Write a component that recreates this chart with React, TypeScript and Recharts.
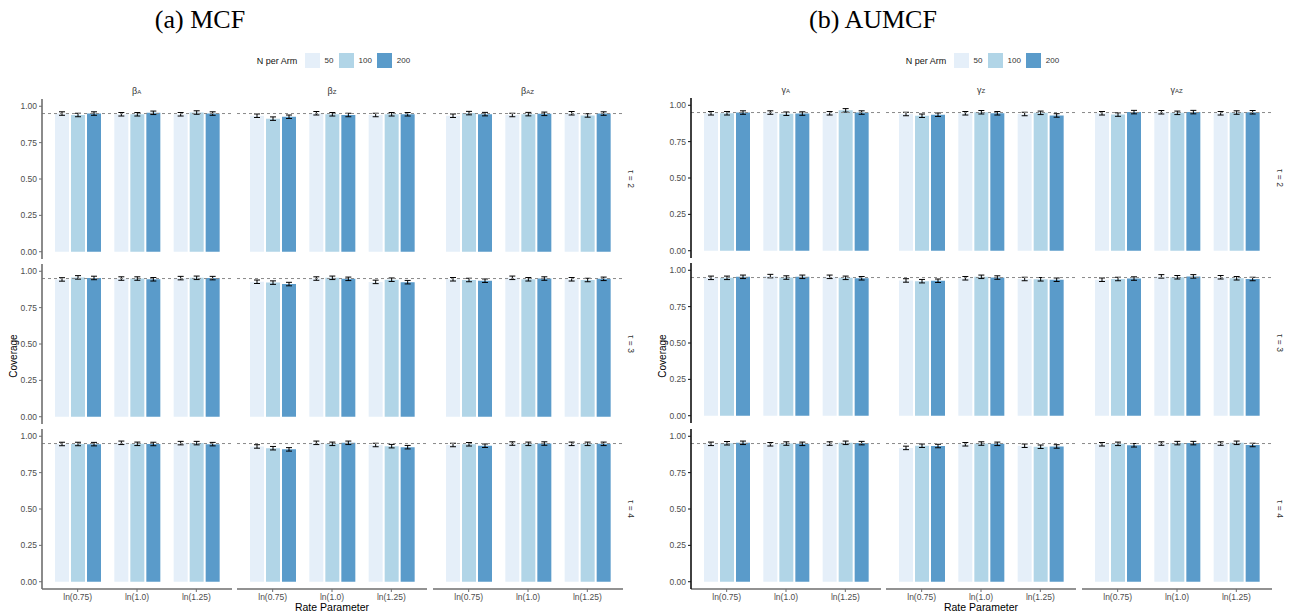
import React from 'react';
import { BarChart, Bar, XAxis, YAxis, ReferenceLine, ErrorBar } from 'recharts';

const rateLevels = ['ln(0.75)', 'ln(1.0)', 'ln(1.25)'];
const armSizes = ['50', '100', '200'];
const armColors = ['#e5eff9', '#b1d5e7', '#5a9bca'];
const yTicks = [0, 0.25, 0.5, 0.75, 1];
const coverageTarget = 0.95;
const ciHalfWidth = 0.012;

// coverage per facet: for each rate level, N = 50, 100, 200
const mcfBetaA_tau2 = [0.95, 0.94, 0.95, 0.945, 0.945, 0.955, 0.945, 0.957, 0.95];
const mcfBetaZ_tau2 = [0.935, 0.915, 0.928, 0.952, 0.945, 0.94, 0.94, 0.945, 0.945];
const mcfBetaAZ_tau2 = [0.935, 0.953, 0.946, 0.94, 0.946, 0.948, 0.952, 0.937, 0.95];
const mcfBetaA_tau3 = [0.944, 0.958, 0.954, 0.95, 0.95, 0.945, 0.953, 0.955, 0.953];
const mcfBetaZ_tau3 = [0.928, 0.922, 0.912, 0.95, 0.955, 0.948, 0.927, 0.942, 0.925];
const mcfBetaAZ_tau3 = [0.945, 0.94, 0.935, 0.955, 0.945, 0.95, 0.945, 0.94, 0.948];
const mcfBetaA_tau4 = [0.947, 0.947, 0.946, 0.955, 0.948, 0.947, 0.953, 0.953, 0.946];
const mcfBetaZ_tau4 = [0.93, 0.918, 0.91, 0.955, 0.948, 0.955, 0.94, 0.932, 0.925];
const mcfBetaAZ_tau4 = [0.94, 0.945, 0.935, 0.95, 0.948, 0.95, 0.948, 0.948, 0.948];

const aumcfGammaA_tau2 = [0.945, 0.945, 0.95, 0.95, 0.942, 0.943, 0.945, 0.965, 0.95];
const aumcfGammaZ_tau2 = [0.94, 0.928, 0.935, 0.945, 0.952, 0.945, 0.94, 0.948, 0.93];
const aumcfGammaAZ_tau2 = [0.945, 0.936, 0.953, 0.952, 0.948, 0.953, 0.945, 0.95, 0.952];
const aumcfGammaA_tau3 = [0.948, 0.948, 0.955, 0.96, 0.95, 0.955, 0.955, 0.948, 0.945];
const aumcfGammaZ_tau3 = [0.93, 0.925, 0.928, 0.945, 0.955, 0.95, 0.94, 0.938, 0.935];
const aumcfGammaAZ_tau3 = [0.935, 0.94, 0.943, 0.958, 0.952, 0.958, 0.952, 0.945, 0.94];
const aumcfGammaA_tau4 = [0.948, 0.952, 0.955, 0.945, 0.95, 0.948, 0.95, 0.955, 0.953];
const aumcfGammaZ_tau4 = [0.92, 0.935, 0.933, 0.945, 0.95, 0.948, 0.935, 0.928, 0.93];
const aumcfGammaAZ_tau4 = [0.945, 0.948, 0.938, 0.95, 0.953, 0.953, 0.95, 0.955, 0.94];

const tauLabels = ['τ = 2', 'τ = 3', 'τ = 4'];

const PANEL_W = 190;
const PANEL_H = 160;
const Y_AXIS_W = 36;
const X_AXIS_H = 18;
const textFont = '"Liberation Sans", Arial, sans-serif';

function Label({ x, y, children, size = 9, color = '#333', rotate = 0, font = textFont }: any) {
  return (
    <div
      style={{
        position: 'absolute',
        left: x,
        top: y,
        transform: `translate(-50%, -50%) rotate(${rotate}deg)`,
        fontSize: size,
        color,
        fontFamily: font,
        whiteSpace: 'nowrap',
        lineHeight: 1,
      }}
    >
      {children}
    </div>
  );
}

function Facet({ values, left, top, showY, showX, yAxisColor }: any) {
  const data = rateLevels.map((rate, i) => ({
    rate,
    n50: values[i * 3],
    n100: values[i * 3 + 1],
    n200: values[i * 3 + 2],
    e50: ciHalfWidth,
    e100: ciHalfWidth,
    e200: ciHalfWidth,
  }));
  const yw = showY ? Y_AXIS_W : 0;
  const xh = showX ? X_AXIS_H : 0;
  return (
    <div style={{ position: 'absolute', left: left - yw, top }}>
      <BarChart
        width={PANEL_W + yw}
        height={PANEL_H + xh}
        data={data}
        margin={{ top: 0, right: 0, bottom: 0, left: 0 }}
        barSize={14}
        barGap={2}
      >
        <XAxis
          dataKey="rate"
          hide={!showX}
          height={xh}
          interval={0}
          padding={{ left: 6, right: 6 }}
          axisLine={{ stroke: '#6e6e6e', strokeWidth: 1.6 }}
          tickLine={{ stroke: '#6e6e6e' }}
          tickSize={3}
          tick={{ fontSize: 8.5, fill: '#4d4d4d', fontFamily: textFont }}
        />
        <YAxis
          hide={!showY}
          width={yw}
          domain={[-0.05, 1.05]}
          ticks={yTicks}
          tickFormatter={(v: number) => v.toFixed(2)}
          axisLine={{ stroke: yAxisColor, strokeWidth: 1.6 }}
          tickLine={{ stroke: yAxisColor }}
          tickSize={3}
          tick={{ fontSize: 8.5, fill: '#4d4d4d', fontFamily: textFont }}
        />
        {armSizes.map((n, k) => (
          <Bar key={n} dataKey={'n' + n} fill={armColors[k]} isAnimationActive={false}>
            <ErrorBar dataKey={'e' + n} width={3} stroke="#000" strokeWidth={1} direction="y" />
          </Bar>
        ))}
        <ReferenceLine y={coverageTarget} stroke="#8a8a8a" strokeDasharray="3 3" strokeWidth={1} />
      </BarChart>
    </div>
  );
}

function Legend({ x }: { x: number }) {
  const boxes = [50, 83.7, 122];
  return (
    <>
      <Label x={x + 22} y={60.5} size={9} color="#111">N per Arm</Label>
      {armSizes.map((n, k) => (
        <React.Fragment key={n}>
          <div
            style={{
              position: 'absolute',
              left: x + boxes[k],
              top: 53,
              width: 15,
              height: 15,
              background: armColors[k],
            }}
          />
          <Label x={x + boxes[k] + 19 + n.length * 2.5} y={60.5} size={8} color="#333">
            {n}
          </Label>
        </React.Fragment>
      ))}
    </>
  );
}

function Panel({ offset, rowTops, facets, symbol, title, titleX, yAxisColor }: any) {
  const cols = [41.7, 237, 432.5].map((c) => c + offset);
  const subs = ['A', 'Z', 'AZ'];
  return (
    <>
      <Label x={titleX} y={20} size={26} color="#000" font='"Liberation Serif", "DejaVu Serif", serif'>
        {title}
      </Label>
      <Legend x={255 + offset} />
      {subs.map((s, c) => (
        <Label key={s} x={cols[c] + PANEL_W / 2} y={rowTops[0] - 8} size={9} color="#333">
          {symbol}
          <span style={{ fontSize: 6 }}>{s}</span>
        </Label>
      ))}
      {facets.map((row: number[][], r: number) =>
        row.map((vals: number[], c: number) => (
          <Facet
            key={r + '-' + c}
            values={vals}
            left={cols[c]}
            top={rowTops[r]}
            showY={c === 0}
            showX={r === 2}
            yAxisColor={yAxisColor}
          />
        ))
      )}
      {tauLabels.map((t, r) => (
        <Label key={t} x={cols[2] + PANEL_W + 8} y={rowTops[r] + PANEL_H / 2} size={8.5} color="#333" rotate={90}>
          {t}
        </Label>
      ))}
      <Label x={14 + offset} y={356} size={10} color="#000" rotate={-90}>
        Coverage
      </Label>
      <Label x={cols[1] + PANEL_W / 2} y={606.5} size={10.5} color="#000">
        Rate Parameter
      </Label>
    </>
  );
}

export default function App() {
  return (
    <div
      style={{
        position: 'absolute',
        left: 0,
        top: 0,
        width: 1289,
        height: 614,
        background: '#fff',
        overflow: 'hidden',
      }}
    >
      <Panel
        offset={0}
        rowTops={[99.4, 264, 428.7]}
        symbol="β"
        title="(a) MCF"
        titleX={200}
        yAxisColor="#6e6e6e"
        facets={[
          [mcfBetaA_tau2, mcfBetaZ_tau2, mcfBetaAZ_tau2],
          [mcfBetaA_tau3, mcfBetaZ_tau3, mcfBetaAZ_tau3],
          [mcfBetaA_tau4, mcfBetaZ_tau4, mcfBetaAZ_tau4],
        ]}
      />
      <Panel
        offset={649}
        rowTops={[97.7, 263, 428.7]}
        symbol="γ"
        title="(b) AUMCF"
        titleX={873}
        yAxisColor="#111"
        facets={[
          [aumcfGammaA_tau2, aumcfGammaZ_tau2, aumcfGammaAZ_tau2],
          [aumcfGammaA_tau3, aumcfGammaZ_tau3, aumcfGammaAZ_tau3],
          [aumcfGammaA_tau4, aumcfGammaZ_tau4, aumcfGammaAZ_tau4],
        ]}
      />
    </div>
  );
}
